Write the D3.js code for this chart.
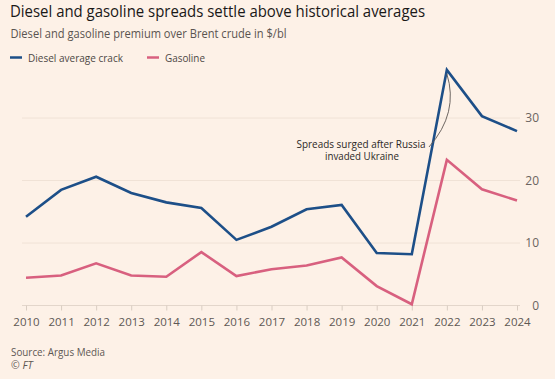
<!DOCTYPE html>
<html>
<head>
<meta charset="utf-8">
<script src="https://cdn.jsdelivr.net/npm/d3@7"></script>
<style>
  html, body { margin: 0; padding: 0; background: #fdf1e7; }
  svg { display: block; }
  text { font-family: "Open Sans", "Noto Sans", sans-serif; }
</style>
</head>
<body>
<svg id="chart" width="555" height="379"></svg>
<script>
const years = [2010, 2011, 2012, 2013, 2014, 2015, 2016, 2017, 2018, 2019, 2020, 2021, 2022, 2023, 2024];
const diesel = [14.2, 18.5, 20.6, 18.0, 16.5, 15.6, 10.5, 12.6, 15.4, 16.1, 8.4, 8.2, 37.7, 30.3, 27.9];
const gasoline = [4.45, 4.8, 6.75, 4.8, 4.6, 8.55, 4.7, 5.8, 6.4, 7.7, 3.1, 0.2, 23.3, 18.6, 16.8];
const yTicks = [0, 10, 20, 30];
const seriesNames = ["Diesel average crack", "Gasoline"];
const colors = ["#1d4f88", "#d8607f"];

const svg = d3.select("#chart");
svg.append("rect").attr("width", 555).attr("height", 379).attr("fill", "#fdf1e7");

const x = d3.scaleLinear().domain([2010, 2024]).range([26, 517]);
const y = d3.scaleLinear().domain([0, 40]).range([305.5, 55.5]);

// Title & subtitle
svg.append("text").attr("x", 10).attr("y", 17)
  .attr("font-size", 16).attr("fill", "#1a1817")
  .attr("textLength", 415).attr("lengthAdjust", "spacingAndGlyphs")
  .text("Diesel and gasoline spreads settle above historical averages");
svg.append("text").attr("x", 10.5).attr("y", 37.5)
  .attr("font-size", 12.3).attr("fill", "#5a5450")
  .attr("textLength", 276).attr("lengthAdjust", "spacingAndGlyphs")
  .text("Diesel and gasoline premium over Brent crude in $/bl");

// Legend
const legendX = [10, 147];
const legendW = [95, 40];
seriesNames.forEach((n, i) => {
  svg.append("line").attr("x1", legendX[i]).attr("x2", legendX[i] + 12)
    .attr("y1", 57.5).attr("y2", 57.5)
    .attr("stroke", colors[i]).attr("stroke-width", 2.5);
  svg.append("text").attr("x", legendX[i] + 18).attr("y", 61.5)
    .attr("font-size", 11.3).attr("fill", "#4d4845")
    .attr("textLength", legendW[i]).attr("lengthAdjust", "spacingAndGlyphs")
    .text(n);
});

// Gridlines
svg.append("g").selectAll("line").data(yTicks.filter(d => d > 0)).join("line")
  .attr("x1", 22).attr("x2", 520)
  .attr("y1", d => y(d)).attr("y2", d => y(d))
  .attr("stroke", "#f0e2d6").attr("stroke-width", 1);
svg.append("line").attr("x1", 22).attr("x2", 520)
  .attr("y1", y(0)).attr("y2", y(0))
  .attr("stroke", "#e3d6cb").attr("stroke-width", 1);

// Y axis (right)
const yAxis = svg.append("g").attr("transform", "translate(539,0)")
  .call(d3.axisLeft(y).tickValues(yTicks).tickSize(0).tickPadding(0).tickFormat(d3.format("d")));
yAxis.select(".domain").remove();
yAxis.selectAll("text").attr("font-size", 12).attr("fill", "#6b6460")
  .attr("font-family", "'Open Sans', sans-serif");

// X axis
const xAxis = svg.append("g").attr("transform", `translate(0,${y(0)})`)
  .call(d3.axisBottom(x).tickValues(years).tickSize(5).tickSizeOuter(0).tickPadding(7).tickFormat(d3.format("d")));
xAxis.select(".domain").remove();
xAxis.selectAll(".tick line").attr("stroke", "#d9cdc2");
xAxis.selectAll("text").attr("font-size", 11.5).attr("fill", "#5e5854")
  .attr("font-family", "'Open Sans', sans-serif");

// Lines
const line = d3.line().x((d, i) => x(years[i])).y(d => y(d));
[gasoline, diesel].forEach((s, k) => {
  svg.append("path").datum(s)
    .attr("d", line)
    .attr("fill", "none")
    .attr("stroke", k === 0 ? colors[1] : colors[0])
    .attr("stroke-width", 2.6)
    .attr("stroke-linejoin", "miter");
});

// Annotation
const ax0 = 429, ay0 = 147;
const peakX = x(2022), peakY = y(diesel[12]) + 4;
svg.append("path")
  .attr("d", `M${ax0},${ay0} Q459,113 ${peakX},${peakY}`)
  .attr("fill", "none").attr("stroke", "#5c5652").attr("stroke-width", 0.9);
svg.append("text").attr("x", 361).attr("y", 147.5)
  .attr("text-anchor", "middle").attr("font-size", 10.6).attr("fill", "#2b2826")
  .attr("textLength", 129).attr("lengthAdjust", "spacingAndGlyphs")
  .text("Spreads surged after Russia");
svg.append("text").attr("x", 362).attr("y", 160)
  .attr("text-anchor", "middle").attr("font-size", 10.6).attr("fill", "#2b2826")
  .attr("textLength", 74).attr("lengthAdjust", "spacingAndGlyphs")
  .text("invaded Ukraine");

// Source
svg.append("text").attr("x", 11).attr("y", 355.5)
  .attr("font-size", 11).attr("fill", "#5e5854")
  .attr("textLength", 94).attr("lengthAdjust", "spacingAndGlyphs")
  .text("Source: Argus Media");
svg.append("text").attr("x", 11).attr("y", 368.5)
  .attr("font-size", 10.5).attr("fill", "#5e5854").attr("font-style", "italic")
  .text("© FT");
</script>
</body>
</html>
